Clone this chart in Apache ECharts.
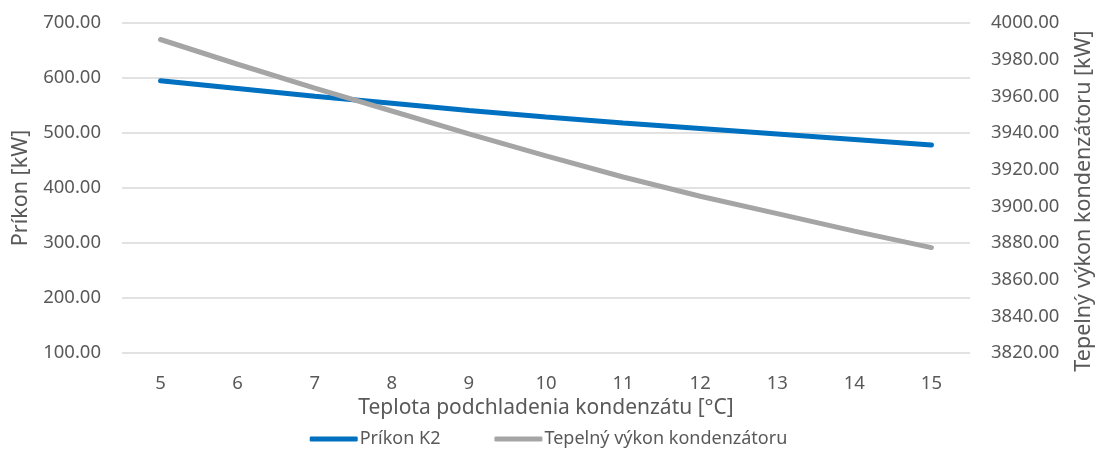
<!DOCTYPE html>
<html>
<head>
<meta charset="utf-8">
<script src="https://cdn.jsdelivr.net/npm/echarts@6/dist/echarts.min.js"></script>
<style>
    html, body { margin: 0; padding: 0; background: #fff; }
    #chart { width: 1097px; height: 455px; }
</style>
</head>
<body>
<div id="chart"></div>
<script>
    // hodnoty odčítané z grafu
    var categories = ['5', '6', '7', '8', '9', '10', '11', '12', '13', '14', '15'];
    var prikonK2 = [595, 581, 567, 554, 541, 529, 518, 508, 498, 488, 478];
    var tepelnyVykon = [3991, 3977.5, 3964.5, 3952, 3939.5, 3927.5, 3916, 3905.5, 3896, 3886.5, 3877.5];

    var font = 'Noto Sans';
    var textColor = '#595959';

    var chart = echarts.init(document.getElementById('chart'));
    var option = {
        animation: false,
        textStyle: { fontFamily: font },
        grid: {
            left: 122,
            right: 127,
            top: 23,
            bottom: 102,
            outerBoundsMode: 'none'
        },
        legend: {
            bottom: 2,
            left: 'center',
            icon: 'roundRect',
            itemWidth: 48,
            itemHeight: 5,
            itemGap: 54,
            textStyle: { fontFamily: font, fontSize: 18, color: textColor, padding: [0, 0, 0, -3] },
            data: ['Príkon K2', 'Tepelný výkon kondenzátoru']
        },
        xAxis: {
            type: 'category',
            data: categories,
            boundaryGap: true,
            name: 'Teplota podchladenia kondenzátu [°C]',
            nameLocation: 'middle',
            nameGap: 43,
            nameTextStyle: { fontFamily: font, fontSize: 21, color: textColor },
            axisLine: { show: false },
            axisTick: { show: false },
            axisLabel: { fontFamily: font, fontSize: 18.5, color: textColor, margin: 21 }
        },
        yAxis: [
            {
                type: 'value',
                min: 100,
                max: 700,
                interval: 100,
                name: 'Príkon [kW]',
                nameLocation: 'middle',
                nameGap: 89,
                nameTextStyle: { fontFamily: font, fontSize: 21.5, color: textColor },
                axisLine: { show: false },
                axisTick: { show: false },
                axisLabel: {
                    fontFamily: font, fontSize: 18.5, color: textColor, margin: 21,
                    formatter: function (v) { return v.toFixed(2); }
                },
                splitLine: { lineStyle: { color: '#d9d9d9', width: 1.5 } }
            },
            {
                type: 'value',
                min: 3820,
                max: 4000,
                interval: 20,
                name: 'Tepelný výkon kondenzátoru [kW]',
                nameLocation: 'middle',
                nameGap: 103,
                nameTextStyle: { fontFamily: font, fontSize: 21.5, color: textColor, padding: [0, 26, 0, 0] },
                axisLine: { show: false },
                axisTick: { show: false },
                axisLabel: {
                    fontFamily: font, fontSize: 18.5, color: textColor, margin: 21,
                    formatter: function (v) { return v.toFixed(2); }
                },
                splitLine: { show: false }
            }
        ],
        series: [
            {
                name: 'Príkon K2',
                type: 'line',
                yAxisIndex: 0,
                data: prikonK2,
                symbol: 'none',
                lineStyle: { color: '#0070c0', width: 5, cap: 'round' },
                itemStyle: { color: '#0070c0' }
            },
            {
                name: 'Tepelný výkon kondenzátoru',
                type: 'line',
                yAxisIndex: 1,
                data: tepelnyVykon,
                symbol: 'none',
                lineStyle: { color: '#a5a5a5', width: 5, cap: 'round' },
                itemStyle: { color: '#a5a5a5' }
            }
        ]
    };
    chart.setOption(option);
</script>
</body>
</html>
